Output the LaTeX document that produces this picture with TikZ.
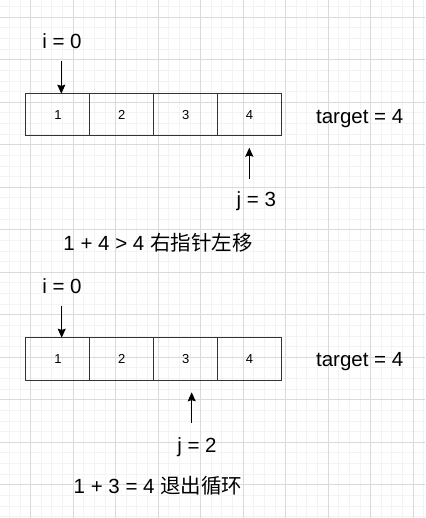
\documentclass[tikz,border=0pt]{standalone}
\usepackage{fontspec}
\setmainfont{Liberation Sans}
\newfontfamily\cjk{Noto Sans CJK SC}
\usetikzlibrary{
	arrows.meta,
	positioning
}
\definecolor{gridmajor}{RGB}{218,218,218}
\definecolor{gridminor}{RGB}{243,243,243}
\definecolor{cellline}{RGB}{51,51,51}
\tikzset{
  % grid
	cstgrid/.style     ={gridminor, line width=1pt},
	cstgridm/.style    ={gridmajor, line width=1pt},
  % node
	cstcell/.style     ={draw=cellline, line width=1pt, minimum width=63.9pt, minimum height=42.3pt,
	                     inner sep=0pt, outer sep=0pt, font=\fontsize{13}{13}\selectfont},
	csttext/.style     ={inner sep=0pt, anchor=base, font=\fontsize{20.5}{22}\selectfont},
  % arrow
	cstptr/.style      ={-{Stealth[length=9pt,width=8pt,inset=1.2pt]}, line width=1.1pt}
}
\begin{document}
\begin{tikzpicture}[x=1pt,y=-1pt]
	\useasboundingbox (0,0) rectangle (425,518);
	% 背景网格
	\foreach \x in {0,...,39} \draw[cstgrid] ({9.45+10.625*\x},0) -- ++(0,518);
	\foreach \y in {0,...,48} \draw[cstgrid] (0,{6.7+10.625*\y}) -- ++(425,0);
	\foreach \x in {0,...,9} \draw[cstgridm] ({30.7+42.5*\x},0) -- ++(0,518);
	\foreach \y in {0,...,11} \draw[cstgridm] (0,{17.3+42.5*\y}) -- ++(425,0);
	% first step
	\node[cstcell] (a1) at (57.9,114.85) {1};
	\node[cstcell,right=0pt of a1] (a2) {2};
	\node[cstcell,right=0pt of a2] (a3) {3};
	\node[cstcell,right=0pt of a3] (a4) {4};
	\node[csttext] (ti1) at (62,48.3) {i = 0};
	\node[csttext] (tj1) at (256.3,206.7) {j = 3};
	\node[csttext] (tt1) at (359.7,123.3) {target = 4};
	\node[csttext] (ts1) at (158,250) {1 + 4 > 4 {\cjk 右指针左移}};
	\coordinate (i1) at (61.3,61);
	\coordinate (j1) at (249.3,179);
	\coordinate (j1e) at (249.3,147.7);
	\draw[cstptr] (i1) -- (i1 |- a1.north);
	\draw[cstptr] (j1) -- (j1e);
	% second step
	\node[cstcell] (b1) at (57.9,358.85) {1};
	\node[cstcell,right=0pt of b1] (b2) {2};
	\node[cstcell,right=0pt of b2] (b3) {3};
	\node[cstcell,right=0pt of b3] (b4) {4};
	\node[csttext] (ti2) at (62,293.3) {i = 0};
	\node[csttext] (tj2) at (197,452.7) {j = 2};
	\node[csttext] (tt2) at (359.7,366) {target = 4};
	\node[csttext] (ts2) at (158,493.3) {1 + 3 = 4 {\cjk 退出循环}};
	\coordinate (i2) at (61.7,305.7);
	\coordinate (j2) at (191.7,422.7);
	\coordinate (j2e) at (191.7,392.3);
	\draw[cstptr] (i2) -- (i2 |- b1.north);
	\draw[cstptr] (j2) -- (j2e);
\end{tikzpicture}
\end{document}
